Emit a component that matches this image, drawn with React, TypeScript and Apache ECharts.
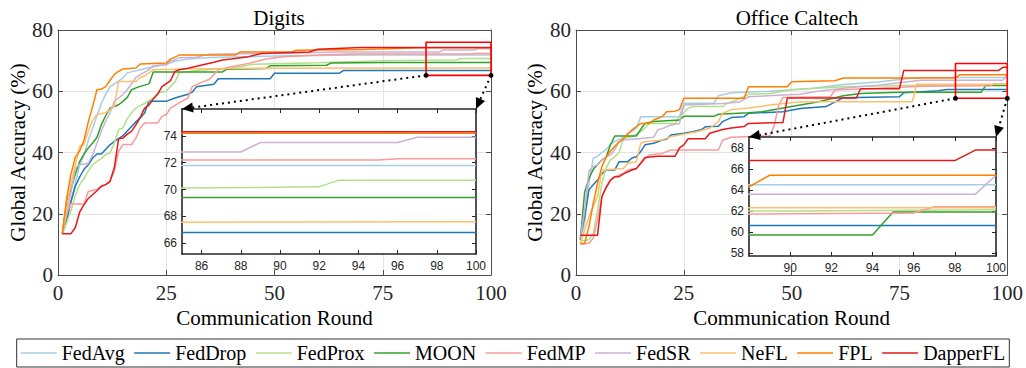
import React, { useEffect, useRef } from 'react';
import * as echarts from 'echarts';

const methods = ['FedAvg', 'FedDrop', 'FedProx', 'MOON', 'FedMP', 'FedSR', 'NeFL', 'FPL', 'DapperFL'];
const colors = ['#a6cee3', '#1f78b4', '#b2df8a', '#33a02c', '#fb9a99', '#cab2d6', '#fdbf6f', '#ff7f00', '#e31a1c'];

const mainXTicks = [0, 25, 50, 75, 100];
const mainYTicks = [0, 20, 40, 60, 80];
const digitsInsetXTicks = [86, 88, 90, 92, 94, 96, 98, 100];
const digitsInsetYTicks = [66, 68, 70, 72, 74];
const officeInsetXTicks = [90, 92, 94, 96, 98, 100];
const officeInsetYTicks = [58, 60, 62, 64, 66, 68];
const digitsZoomX = [85, 100];
const digitsZoomY = [65.2, 76];
const officeZoomX = [88, 100];
const officeZoomY = [57.7, 69.05];

// ---- Digits: [round, accuracy %] ----
const digitsFedAvg = [[1,13.5],[2,18],[3,24],[4,30],[5,36],[6,39],[7,44],[8,48],[9,52],[10,56],[11,59],[12,61.5],[13,62.4],[15,64.3],[16,66],[19,67],[22,68],[25,68.7],[27,69.8],[30,70.5],[35,71],[50,71.5],[70,71.8],[100,71.8]];
const digitsFedDrop = [[1,13.5],[2,18],[3,24],[4,29],[5,32],[6,34.5],[7,36],[8,38.2],[9,39.5],[10,39.5],[11,41],[12,42.5],[13,43.6],[14,44.5],[15,45.5],[16,47],[17,48.5],[18,50],[19,51.3],[20,52.9],[21,56.7],[25,56.7],[27,57.8],[30,59],[31,59.7],[32,61.5],[36,62.3],[37,64.1],[49,64.1],[50,65.9],[65,65.9],[66,66.8],[100,66.8]];
const digitsFedProx = [[1,13.5],[2,17],[3,21],[4,26],[5,29.5],[6,31.5],[7,34],[8,36],[9,37.1],[10,38],[11,39.3],[12,39.8],[13,43],[14,47.5],[15,48],[16,51],[17,53],[18,54.5],[19,55.3],[20,56],[22,57.8],[23,59.4],[25,60],[26,61.6],[27,63],[28,66],[32,66.8],[40,67.5],[45,68.8],[60,69.3],[75,70],[92,70.2],[93,70.7],[100,70.7]];
const digitsMOON = [[1,13.5],[2,24],[3,28],[4,33],[5,37],[6,39.5],[7,41.5],[8,43.1],[9,45],[10,49],[11,52],[12,54.5],[13,55],[14,55.6],[15,56.7],[16,58],[17,60.5],[18,61.1],[19,61.6],[21,62.4],[22,66.3],[38,66.3],[39,67.2],[48,67.4],[49,68.3],[62,68.5],[63,69.2],[75,69.4],[100,69.4]];
const digitsFedMP = [[1,13.5],[2,20],[3,23.2],[6,23.2],[7,27.3],[9,27.9],[10,29],[11,29.5],[12,30.6],[13,33.9],[14,40.4],[15,42.6],[17,42.6],[18,44.7],[19,48],[20,49.6],[23,49.6],[24,51.8],[25,52.4],[26,54.5],[28,56.2],[30,57.8],[31,61.5],[33,62.8],[35,63.9],[37,67],[40,68],[44,69.1],[48,70.5],[52,71.3],[60,71.8],[68,72.2],[95,72.2],[96,72.3],[100,72.3]];
const digitsFedSR = [[1,13.5],[2,20],[3,27],[4,35],[5,36],[7,36.5],[8,39.3],[9,43],[10,47],[11,50.2],[12,52.9],[13,56.7],[14,57.8],[15,58.9],[16,60.5],[17,62.5],[18,64.5],[19,65.4],[21,67],[22,68.3],[25,68.7],[26,69.8],[28,70.9],[32,71.1],[33,71.5],[35,72.1],[55,72.5],[65,72.8],[88,72.8],[89,73.5],[96,73.5],[97,73.9],[100,73.9]];
const digitsNeFL = [[1,13.5],[2,22],[3,30],[4,36],[5,42],[6,42.6],[7,47],[8,50.5],[9,52.4],[11,53],[12,54],[13,55.1],[14,63.2],[18,63.2],[19,64.5],[20,65],[22,67],[30,67.3],[45,67.5],[100,67.6]];
const digitsFPL = [[1,13.5],[2,25],[3,33],[4,38.5],[5,40.5],[6,44],[7,50],[8,55],[9,60.5],[10,60.7],[11,61.5],[12,63.5],[13,65.5],[14,66.5],[15,67.3],[18,67.6],[19,68.9],[25,69.2],[26,70.5],[28,71.8],[41,71.8],[42,72.8],[54,72.8],[55,73.4],[70,73.6],[80,74],[84,74.2],[100,74.2]];
const digitsDapperFL = [[1,13.5],[3,13.5],[4,15.5],[5,20.5],[6,23],[7,25],[9,27.5],[10,29],[11,29.5],[12,30.5],[13,35],[14,44.5],[15,44.7],[16,46],[17,47],[18,49],[19,51.5],[20,54.5],[21,55.5],[22,57.5],[23,59],[24,61.5],[25,62.5],[26,63.5],[27,66.5],[28,67],[30,67.5],[33,68.5],[36,69.5],[38,70.2],[40,70.5],[44,71.3],[47,72.3],[58,72.8],[60,73.7],[70,74.3],[100,74.3]];

// ---- Office Caltech: [round, accuracy %] ----
const officeFedAvg = [[1,11.4],[2,17],[3,30],[4,38.2],[5,38.8],[6,40],[7,41],[8,42.7],[9,43.6],[10,44.3],[11,45],[12,46.3],[13,46.8],[14,48],[15,51.7],[24,51.7],[25,56.1],[32,56.1],[33,58.5],[36,59.5],[45,60],[55,61],[62,62.2],[70,63],[76,64],[80,64.5],[100,64.5]];
const officeFedDrop = [[1,12.5],[2,19],[3,27.8],[4,29.5],[5,31],[6,33],[7,34.3],[9,34.3],[10,37],[12,37],[13,38.2],[14,38.6],[15,40.3],[16,42.5],[18,43],[20,44.1],[21,44.3],[22,45.7],[25,46.3],[27,46.8],[29,47.4],[30,48.4],[33,48.6],[34,50.1],[36,51.4],[39,51.7],[40,52.8],[48,53.3],[52,54.4],[58,55],[62,57.9],[75,58.2],[76,59.5],[84,60.2],[86,60.6],[100,60.6]];
const officeFedProx = [[1,11],[3,11.5],[4,13.6],[5,21],[6,30],[7,35],[8,37.6],[9,38.6],[10,40],[11,44.6],[13,45.2],[15,46.8],[16,48],[17,49.5],[23,49.5],[24,51.7],[26,54.4],[27,55],[34,55],[35,56],[37,57],[40,59],[45,59.3],[50,60.5],[62,61.5],[75,61.9],[90,62],[100,62.1]];
const officeMOON = [[1,11.5],[2,27],[3,31.5],[4,34.5],[5,36],[6,37.6],[7,38.5],[8,42.5],[9,45.4],[14,45.4],[15,47.5],[16,49.5],[18,50.1],[24,50.6],[25,51.8],[32,51.8],[33,52.5],[40,53],[43,53.3],[48,54.5],[52,55.5],[56,56.5],[62,58.5],[66,59.3],[75,59.7],[94,59.7],[95,61.9],[100,61.9]];
const officeFedMP = [[1,10],[3,10.4],[4,12],[5,18],[6,25.6],[7,29],[8,31],[9,32.1],[11,33.2],[12,34.3],[14,34.8],[15,36.3],[16,37.8],[17,39.2],[20,39.7],[22,40.8],[33,40.8],[34,44],[36,45],[45,45.5],[46,49],[47,55.5],[48,58],[59,58.2],[60,60.4],[70,61],[80,61.6],[96,61.8],[97,62.4],[100,62.4]];
const officeFedSR = [[1,12],[2,21],[3,34],[4,35.4],[5,36],[6,37.6],[7,38.6],[8,39.2],[9,41],[10,43.5],[11,44.1],[15,44.6],[18,45],[19,47.4],[20,47.8],[22,49],[24,49.5],[25,55.5],[34,56],[38,56.5],[40,58.2],[52,59],[56,60],[62,61],[70,62],[75,62.8],[80,63.6],[99,63.6],[100,65.4]];
const officeNeFL = [[1,10.3],[2,14.7],[3,19],[4,22.5],[5,25.6],[6,34.3],[11,34.8],[12,36.5],[14,37],[15,43],[16,43.5],[20,44.1],[22,45.2],[24,45.7],[28,46.8],[31,47.9],[33,50.1],[34,52.8],[36,54],[40,54.5],[45,55.5],[52,56.6],[78,56.6],[79,62.3],[100,62.3]];
const officeFPL = [[1,10.3],[2,10.3],[3,15.8],[4,23.4],[5,30],[6,35.4],[7,38.5],[8,40.5],[9,42],[10,43.5],[11,44.5],[12,46],[13,47.4],[15,49.5],[17,49.5],[18,50.6],[20,51.7],[21,53.3],[23,53.5],[24,54],[25,57.7],[39,57.7],[40,61.5],[49,61.5],[50,63.1],[60,63.4],[62,64.3],[88,64.3],[89,65.4],[100,65.4]];
const officeDapperFL = [[1,13],[5,13],[6,25.6],[7,28.5],[8,31],[9,32.1],[10,32.1],[11,33],[13,34.3],[14,34.8],[15,36.5],[16,38.4],[19,38.8],[23,38.8],[24,41.5],[25,42.5],[26,44.5],[30,44.5],[31,46.3],[34,47.5],[36,48],[39,48.5],[40,49.5],[48,49.8],[49,57.8],[65,57.8],[66,60.8],[75,60.8],[76,66.8],[98,66.8],[99,67.8],[100,67.8]];

const digitsData = [digitsFedAvg, digitsFedDrop, digitsFedProx, digitsMOON, digitsFedMP, digitsFedSR, digitsNeFL, digitsFPL, digitsDapperFL];
const officeData = [officeFedAvg, officeFedDrop, officeFedProx, officeMOON, officeFedMP, officeFedSR, officeNeFL, officeFPL, officeDapperFL];

const SERIF = 'Liberation Serif';
const SANS = 'Liberation Sans';
const INK = '#262626';

function mainAxis(kind: 'x' | 'y', gridIndex: number, primary: boolean, extra: any = {}) {
  const isX = kind === 'x';
  return {
    type: 'value',
    gridIndex,
    position: isX ? (primary ? 'bottom' : 'top') : (primary ? 'left' : 'right'),
    min: isX ? mainXTicks[0] : mainYTicks[0],
    max: isX ? mainXTicks[mainXTicks.length - 1] : mainYTicks[mainYTicks.length - 1],
    interval: isX ? 25 : 20,
    axisLine: { show: true, onZero: false, lineStyle: { color: '#4d4d4d', width: 1 } },
    axisTick: { show: true, inside: true, length: 5, lineStyle: { color: '#4d4d4d' } },
    axisLabel: {
      show: primary,
      fontFamily: SERIF,
      fontSize: 21,
      color: INK,
      margin: isX ? 7 : 5,
    },
    splitLine: { show: primary, lineStyle: { color: '#e3e3e3', width: 1 } },
    z: 1,
    ...extra,
  };
}

function insetAxis(kind: 'x' | 'y', gridIndex: number, primary: boolean, range: number[], ticks: number[]) {
  const isX = kind === 'x';
  return {
    type: 'value',
    gridIndex,
    position: isX ? (primary ? 'bottom' : 'top') : (primary ? 'left' : 'right'),
    min: range[0],
    max: range[1],
    axisLine: { show: true, onZero: false, lineStyle: { color: INK, width: 1.6 } },
    axisTick: { show: true, inside: true, length: 4, customValues: ticks, lineStyle: { color: INK } },
    axisLabel: {
      show: primary,
      customValues: ticks,
      fontFamily: SANS,
      fontSize: 12,
      color: INK,
      margin: isX ? 6 : 5,
    },
    splitLine: { show: false },
    z: 6,
  };
}

function buildSeries(data: number[][][], xi: number, yi: number, z: number) {
  return methods.map((m, i) => ({
    name: m,
    type: 'line',
    xAxisIndex: xi,
    yAxisIndex: yi,
    data: data[i],
    symbol: 'none',
    showSymbol: false,
    lineStyle: { color: colors[i], width: 1.5 },
    itemStyle: { color: colors[i] },
    z,
    silent: true,
    clip: true,
  }));
}

function rectSeries(name: string, xr: number[], yr: number[], xi: number, yi: number) {
  return {
    name,
    type: 'line',
    xAxisIndex: xi,
    yAxisIndex: yi,
    data: [[xr[0], yr[0]], [xr[1], yr[0]], [xr[1], yr[1]], [xr[0], yr[1]], [xr[0], yr[0]]],
    symbol: 'none',
    lineStyle: { color: '#ff0000', width: 1.6 },
    itemStyle: { color: '#ff0000' },
    clip: false,
    z: 4,
    silent: true,
  };
}

export default function App() {
  const ref = useRef<HTMLDivElement>(null);
  useEffect(() => {
    if (!ref.current) return;
    const chart = echarts.init(ref.current, undefined, { renderer: 'svg' });
    const option: any = {
      animation: false,
      backgroundColor: '#ffffff',
      title: [
        { text: 'Digits', left: 274, top: 2, textAlign: 'center', textStyle: { fontFamily: SERIF, fontSize: 21, fontWeight: 'normal', color: '#000' } },
        { text: 'Office Caltech', left: 792, top: 2, textAlign: 'center', textStyle: { fontFamily: SERIF, fontSize: 21, fontWeight: 'normal', color: '#000' } },
      ],
      legend: {
        data: methods,
        left: 'center',
        top: 339,
        orient: 'horizontal',
        icon: 'rect',
        itemWidth: 36,
        itemHeight: 1.6,
        itemGap: 9.5,
        padding: [4, 4],
        borderColor: '#333',
        borderWidth: 1,
        selectedMode: false,
        textStyle: { fontFamily: SERIF, fontSize: 20, color: '#000' },
      },
      grid: [
        { left: 58, top: 30, width: 433, height: 245, show: false, z: 0 },
        { left: 576, top: 30, width: 432, height: 245, show: false, z: 0 },
        { left: 182, top: 109, width: 294, height: 145, show: true, backgroundColor: '#ffffff', borderWidth: 0, z: 5 },
        { left: 749, top: 137, width: 247, height: 119, show: true, backgroundColor: '#ffffff', borderWidth: 0, z: 5 },
      ],
      xAxis: [
        mainAxis('x', 0, true, { name: 'Communication Round', nameLocation: 'middle', nameGap: 31, nameTextStyle: { fontFamily: SERIF, fontSize: 21, color: '#000' } }),
        mainAxis('x', 0, false),
        mainAxis('x', 1, true, { name: 'Communication Round', nameLocation: 'middle', nameGap: 31, nameTextStyle: { fontFamily: SERIF, fontSize: 21, color: '#000' } }),
        mainAxis('x', 1, false),
        insetAxis('x', 2, true, digitsZoomX, digitsInsetXTicks),
        insetAxis('x', 2, false, digitsZoomX, digitsInsetXTicks),
        insetAxis('x', 3, true, officeZoomX, officeInsetXTicks),
        insetAxis('x', 3, false, officeZoomX, officeInsetXTicks),
      ],
      yAxis: [
        mainAxis('y', 0, true, { name: 'Global Accuracy (%)', nameLocation: 'middle', nameGap: 30, nameTextStyle: { fontFamily: SERIF, fontSize: 21, color: '#000' } }),
        mainAxis('y', 0, false),
        mainAxis('y', 1, true, { name: 'Global Accuracy (%)', nameLocation: 'middle', nameGap: 31, nameTextStyle: { fontFamily: SERIF, fontSize: 21, color: '#000' } }),
        mainAxis('y', 1, false),
        insetAxis('y', 2, true, digitsZoomY, digitsInsetYTicks),
        insetAxis('y', 2, false, digitsZoomY, digitsInsetYTicks),
        insetAxis('y', 3, true, officeZoomY, officeInsetYTicks),
        insetAxis('y', 3, false, officeZoomY, officeInsetYTicks),
      ],
      series: [
        ...buildSeries(digitsData, 0, 0, 2),
        ...buildSeries(officeData, 2, 2, 2),
        ...buildSeries(digitsData, 4, 4, 6),
        ...buildSeries(officeData, 6, 6, 6),
        rectSeries('Digits zoom', digitsZoomX, digitsZoomY, 0, 0),
        rectSeries('Office zoom', officeZoomX, officeZoomY, 2, 2),
      ],
    };
    chart.setOption(option);

    const px = (xi: number, yi: number, pt: number[]) =>
      chart.convertToPixel({ xAxisIndex: xi, yAxisIndex: yi }, pt) as number[];

    const connectors: any[] = [];
    const addConnector = (from: number[], to: number[]) => {
      const dx = to[0] - from[0];
      const dy = to[1] - from[1];
      const len = Math.sqrt(dx * dx + dy * dy);
      const ux = dx / len;
      const uy = dy / len;
      const bx = to[0] - ux * 11;
      const by = to[1] - uy * 11;
      connectors.push({
        type: 'line',
        shape: { x1: from[0], y1: from[1], x2: bx, y2: by },
        style: { stroke: '#000', lineWidth: 2, lineDash: [2, 4] },
        z: 20,
        silent: true,
      });
      connectors.push({
        type: 'circle',
        shape: { cx: from[0], cy: from[1], r: 2.5 },
        style: { fill: '#000' },
        z: 20,
        silent: true,
      });
      connectors.push({
        type: 'polygon',
        shape: {
          points: [
            [to[0], to[1]],
            [bx - uy * 5, by + ux * 5],
            [bx + uy * 5, by - ux * 5],
          ],
        },
        style: { fill: '#000' },
        z: 20,
        silent: true,
      });
    };
    addConnector(px(0, 0, [digitsZoomX[0], digitsZoomY[0]]), px(4, 4, [digitsZoomX[0], digitsZoomY[1]]));
    addConnector(px(0, 0, [digitsZoomX[1], digitsZoomY[0]]), px(4, 4, [digitsZoomX[1], digitsZoomY[1]]));
    addConnector(px(2, 2, [officeZoomX[0], officeZoomY[0]]), px(6, 6, [officeZoomX[0], officeZoomY[1]]));
    addConnector(px(2, 2, [officeZoomX[1], officeZoomY[0]]), px(6, 6, [officeZoomX[1], officeZoomY[1]]));

    chart.setOption({ graphic: connectors });

    return () => chart.dispose();
  }, []);
  return <div ref={ref} style={{ position: 'fixed', left: 0, top: 0, width: 1026, height: 368 }} />;
}
